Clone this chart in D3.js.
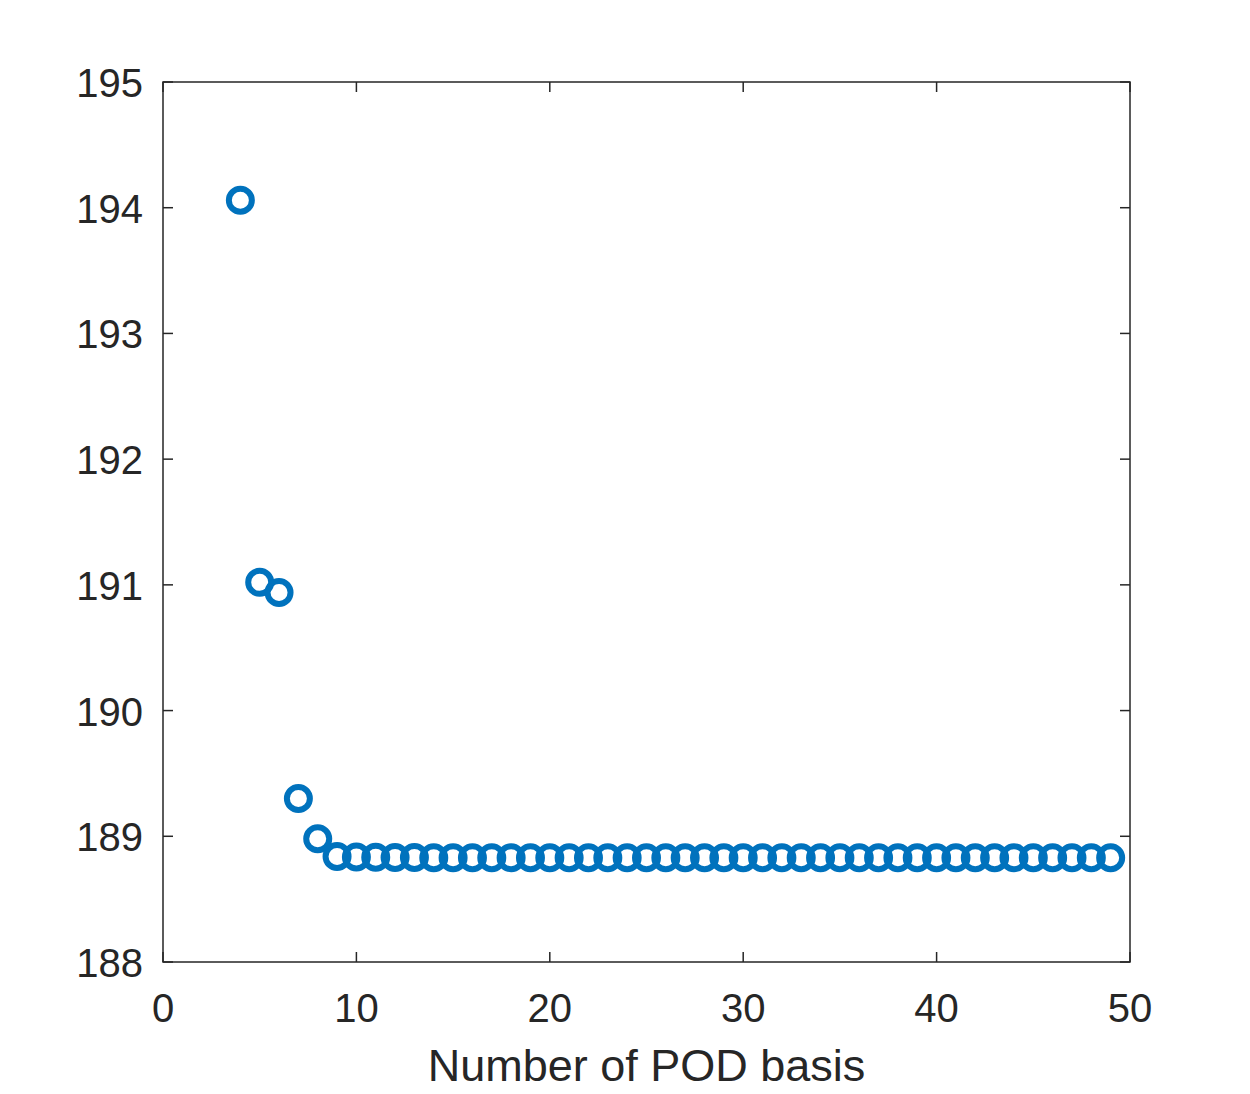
<!DOCTYPE html>
<html lang="en">
<head>
    <meta charset="UTF-8">
    <title>POD basis</title>
    <script src="https://cdn.jsdelivr.net/npm/d3@7"></script>
    <style>
        body { margin: 0; background: #fff; }
        text { font-family: "Liberation Sans", Arial, Helvetica, sans-serif; fill: #262626; }
    </style>
</head>
<body>
<script>
    // data
    var podCount = [4, 5, 6, 7, 8, 9, 10, 11, 12, 13, 14, 15, 16, 17, 18, 19, 20, 21, 22, 23, 24, 25, 26,
        27, 28, 29, 30, 31, 32, 33, 34, 35, 36, 37, 38, 39, 40, 41, 42, 43, 44, 45, 46, 47, 48, 49];
    var podValue = [194.06, 191.02, 190.94, 189.30, 188.98, 188.84, 188.835, 188.833, 188.832, 188.831,
        188.83, 188.83, 188.83, 188.83, 188.83, 188.83, 188.83, 188.83, 188.83, 188.83, 188.83, 188.83,
        188.83, 188.83, 188.83, 188.83, 188.83, 188.83, 188.83, 188.83, 188.83, 188.83, 188.83, 188.83,
        188.83, 188.83, 188.83, 188.83, 188.83, 188.83, 188.83, 188.83, 188.83, 188.83, 188.83, 188.83];
    var xTicks = [0, 10, 20, 30, 40, 50];
    var yTicks = [188, 189, 190, 191, 192, 193, 194, 195];

    // 画布和坐标区 (note: "top" is taken by window.top, so use plot* names)
    var width = 1250, height = 1094;
    var plotLeft = 163, plotRight = 1130, plotTop = 82, plotBottom = 962;
    var axisColor = "#262626";

    var svg = d3.select("body").append("svg")
        .attr("width", width)
        .attr("height", height);

    var x = d3.scaleLinear().domain([0, 50]).range([plotLeft, plotRight]);
    var y = d3.scaleLinear().domain([188, 195]).range([plotBottom, plotTop]);

    // box
    svg.append("rect")
        .attr("x", plotLeft).attr("y", plotTop)
        .attr("width", plotRight - plotLeft).attr("height", plotBottom - plotTop)
        .attr("fill", "none")
        .attr("stroke", axisColor)
        .attr("stroke-width", 1.5);

    var tickLen = 10;

    // x ticks (bottom and top, pointing in)
    xTicks.forEach(function (t) {
        svg.append("line")
            .attr("x1", x(t)).attr("x2", x(t))
            .attr("y1", plotBottom).attr("y2", plotBottom - tickLen)
            .attr("stroke", axisColor).attr("stroke-width", 1.5);
        svg.append("line")
            .attr("x1", x(t)).attr("x2", x(t))
            .attr("y1", plotTop).attr("y2", plotTop + tickLen)
            .attr("stroke", axisColor).attr("stroke-width", 1.5);
        svg.append("text")
            .attr("x", x(t)).attr("y", 1022)
            .attr("text-anchor", "middle")
            .style("font-size", "40px")
            .text(t);
    });

    // y ticks (left and right)
    yTicks.forEach(function (t) {
        svg.append("line")
            .attr("x1", plotLeft).attr("x2", plotLeft + tickLen)
            .attr("y1", y(t)).attr("y2", y(t))
            .attr("stroke", axisColor).attr("stroke-width", 1.5);
        svg.append("line")
            .attr("x1", plotRight).attr("x2", plotRight - tickLen)
            .attr("y1", y(t)).attr("y2", y(t))
            .attr("stroke", axisColor).attr("stroke-width", 1.5);
        svg.append("text")
            .attr("x", plotLeft - 20).attr("y", y(t) + 15)
            .attr("text-anchor", "end")
            .style("font-size", "40px")
            .text(t);
    });

    // x label
    svg.append("text")
        .attr("x", (plotLeft + plotRight) / 2).attr("y", 1081)
        .attr("text-anchor", "middle")
        .style("font-size", "45px")
        .text("Number of POD basis");

    // markers
    svg.selectAll("circle.pt")
        .data(podCount)
        .enter()
        .append("circle")
        .attr("class", "pt")
        .attr("cx", function (d) { return x(d); })
        .attr("cy", function (d, i) { return y(podValue[i]); })
        .attr("r", 11.5)
        .attr("fill", "none")
        .attr("stroke", "#0072BD")
        .attr("stroke-width", 6);
</script>
</body>
</html>
